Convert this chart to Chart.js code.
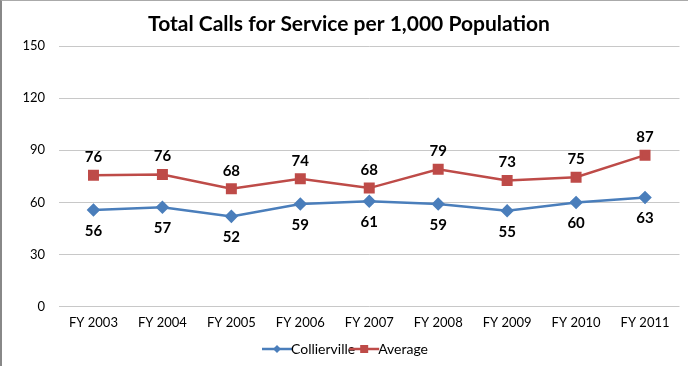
<!DOCTYPE html>
<html><head><meta charset="utf-8">
<script src="https://cdn.jsdelivr.net/npm/chart.js@4/dist/chart.umd.min.js"></script>
<style>
html,body{margin:0;padding:0;background:#fff;}
#wrap{position:relative;width:688px;height:366px;box-sizing:border-box;border-left:2px solid #888;border-top:1px solid #aaa;}
canvas{display:block;}
</style></head><body>
<div id="wrap"><canvas id="c" width="686" height="365"></canvas></div>
<script>
const categories = ["FY 2003","FY 2004","FY 2005","FY 2006","FY 2007","FY 2008","FY 2009","FY 2010","FY 2011"];
const collierville = [55.6, 57.2, 51.9, 59.0, 60.6, 59.0, 55.1, 59.9, 62.8];
const average = [75.6, 76.0, 67.8, 73.6, 68.2, 79.0, 72.6, 74.5, 87.2];
const seriesNames = ["Collierville", "Average"];
const titleText = "Total Calls for Service per 1,000 Population";

const BLUE = "#4A7EBB", RED = "#BE4B48";
const FONT = "Lato, 'Liberation Sans', sans-serif";

function legendIcon(color, style){
  const c = document.createElement('canvas');
  c.width = 32; c.height = 12;
  const g = c.getContext('2d');
  g.strokeStyle = color; g.lineWidth = 2.5;
  g.beginPath(); g.moveTo(1,6); g.lineTo(31,6); g.stroke();
  g.fillStyle = color;
  if(style==='diamond'){
    g.beginPath(); g.moveTo(16,2); g.lineTo(20,6); g.lineTo(16,10); g.lineTo(12,6); g.closePath(); g.fill();
  } else {
    g.fillRect(12,2,8,8);
  }
  return c;
}
const icons = [legendIcon(BLUE,'diamond'), legendIcon(RED,'square')];

const labelPlugin = {
  id:'valueLabels',
  afterDatasetsDraw(chart){
    const ctx = chart.ctx;
    ctx.save();
    ctx.font = "bold 15px " + FONT;
    ctx.fillStyle = "#000";
    ctx.textAlign = "center";
    ctx.textBaseline = "middle";
    chart.data.datasets.forEach((ds, di)=>{
      const meta = chart.getDatasetMeta(di);
      meta.data.forEach((pt, i)=>{
        const v = Math.round(ds.data[i]);
        const dy = di === 0 ? 21 : -18;
        ctx.fillText(String(v), pt.x, pt.y + dy);
      });
    });
    ctx.restore();
  }
};

new Chart(document.getElementById('c'), {
  type:'line',
  data:{
    labels: categories,
    datasets:[
      {label: seriesNames[0], data: collierville, borderColor: BLUE, backgroundColor: BLUE,
       borderWidth: 2.5, pointStyle:'rectRot', pointRadius:5, pointHoverRadius:5, tension:0},
      {label: seriesNames[1], data: average, borderColor: RED, backgroundColor: RED,
       borderWidth: 2.5, pointStyle:'rect', pointRadius:6, pointHoverRadius:6, tension:0}
    ]
  },
  options:{
    responsive:false,
    animation:false,
    layout:{padding:{left:10, right:2, top:7, bottom:0}},
    plugins:{
      title:{display:true, text:titleText, color:'#000',
        font:{family:FONT, size:21, weight:'bold'}, padding:{top:4, bottom:9}},
      legend:{position:'bottom', labels:{
        usePointStyle:true, color:'#000', font:{family:FONT, size:14}, padding:2, boxWidth:32,
        generateLabels(chart){
          return chart.data.datasets.map((ds,i)=>({
            text: ds.label, pointStyle: icons[i], fillStyle: ds.borderColor,
            strokeStyle: ds.borderColor, lineWidth:0, datasetIndex:i, hidden:false, fontColor:'#000'
          }));
        }
      }},
      tooltip:{enabled:false}
    },
    scales:{
      x:{
        offset:true,
        grid:{display:false, drawTicks:false},
        border:{display:false},
        ticks:{color:'#000', font:{family:FONT, size:13}, padding:9, maxRotation:0}
      },
      y:{
        min:0, max:150,
        ticks:{stepSize:30, color:'#000', font:{family:FONT, size:13}, padding:14},
        grid:{color:'#C8C8C8', lineWidth:1, drawTicks:false},
        border:{display:false},
        afterFit(s){ s.width = 47; }
      }
    }
  },
  plugins:[labelPlugin]
});
</script>
</body></html>
